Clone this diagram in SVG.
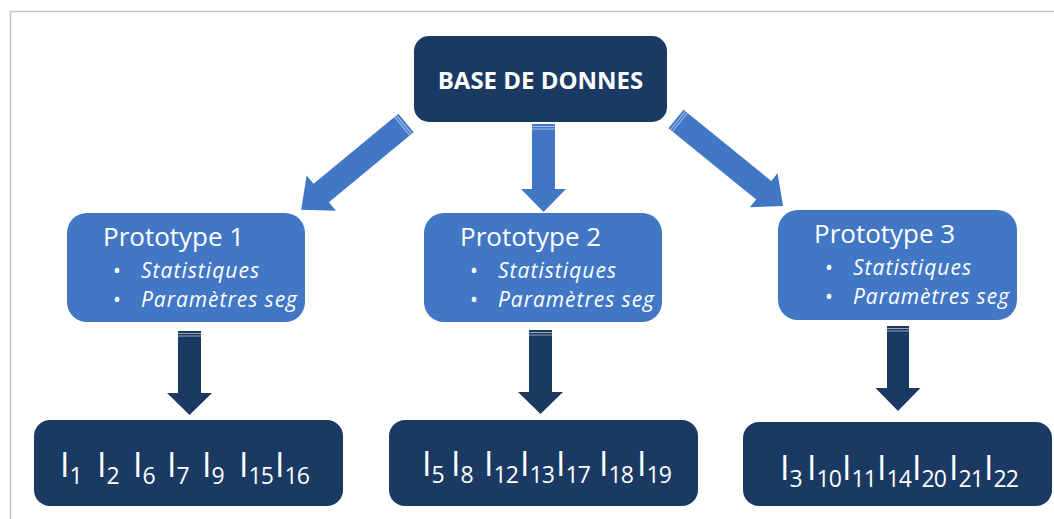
<svg xmlns="http://www.w3.org/2000/svg" width="1054" height="519" viewBox="0 0 1054 519">
<style>
.dark{fill:#1A3A63}
.mid{fill:#4277C6}
.ttl{font-family:"Open Sans","Noto Sans",sans-serif;font-size:26px;fill:#fff}
.lst{font-family:"Open Sans","Noto Sans",sans-serif;font-size:21px;fill:#fff}
.it{font-style:italic}
.big{font-family:"Open Sans","Noto Sans",sans-serif;font-size:24px;font-weight:bold;fill:#fff}
.I{font-family:"Open Sans","Noto Sans",sans-serif;font-size:34px;fill:#fff}
.sub{font-size:23px;letter-spacing:-1px}
.stripe{stroke:#fff;stroke-opacity:.55;stroke-width:1}
.frame{stroke:#C4C4C4;stroke-width:1.5;fill:none}
</style>
<path class="frame" d="M10.5,519 V11.5 H1054"/>

<g id="connectors">
  <g id="arrow-db-p1" transform="translate(406,123) rotate(140.4)">
    <polygon class="mid" points="0,-12 110,-12 110,-23 136,0 110,23 110,12 0,12"/>
    <line class="stripe" x1="2.5" y1="-12" x2="2.5" y2="12"/><line class="stripe" x1="5" y1="-12" x2="5" y2="12"/>
  </g>
  <g id="arrow-db-p2" transform="translate(543.5,124) rotate(90)">
    <polygon class="mid" points="0,-11.5 65,-11.5 65,-22.5 88,0 65,22.5 65,11.5 0,11.5"/>
    <line class="stripe" x1="2.5" y1="-11.5" x2="2.5" y2="11.5"/><line class="stripe" x1="5" y1="-11.5" x2="5" y2="11.5"/>
  </g>
  <g id="arrow-db-p3" transform="translate(676,119) rotate(39.1)">
    <polygon class="mid" points="0,-12 113,-12 113,-22 138,0 113,22 113,12 0,12"/>
    <line class="stripe" x1="2.5" y1="-12" x2="2.5" y2="12"/><line class="stripe" x1="5" y1="-12" x2="5" y2="12"/>
  </g>
  <g id="arrow-p1-g1" transform="translate(189.5,331) rotate(90)">
    <polygon class="dark" points="0,-11.5 62,-11.5 62,-22.5 84,0 62,22.5 62,11.5 0,11.5"/>
    <line class="stripe" x1="2.5" y1="-11.5" x2="2.5" y2="11.5"/><line class="stripe" x1="5" y1="-11.5" x2="5" y2="11.5"/>
  </g>
  <g id="arrow-p2-g2" transform="translate(540.5,330) rotate(90)">
    <polygon class="dark" points="0,-11.5 62,-11.5 62,-22.5 84,0 62,22.5 62,11.5 0,11.5"/>
    <line class="stripe" x1="2.5" y1="-11.5" x2="2.5" y2="11.5"/><line class="stripe" x1="5" y1="-11.5" x2="5" y2="11.5"/>
  </g>
  <g id="arrow-p3-g3" transform="translate(898,326) rotate(90)">
    <polygon class="dark" points="0,-11 62,-11 62,-22.5 85,0 62,22.5 62,11 0,11"/>
    <line class="stripe" x1="2.5" y1="-11" x2="2.5" y2="11"/><line class="stripe" x1="5" y1="-11" x2="5" y2="11"/>
  </g>
</g>

<g id="database">
  <rect class="dark" x="414" y="36" width="253" height="86" rx="15"/>
  <text class="big" x="540.5" y="89" text-anchor="middle">BASE DE DONNES</text>
</g>

<g id="prototype1">
  <rect class="mid" x="67" y="213" width="238" height="109" rx="20"/>
  <text class="ttl" x="103" y="246">Prototype 1</text>
  <text class="lst" x="113" y="278">•</text><text class="lst it" x="141" y="278" textLength="118">Statistiques</text>
  <text class="lst" x="113" y="307">•</text><text class="lst it" x="141" y="307" textLength="156">Paramètres seg</text>
</g>
<g id="prototype2">
  <rect class="mid" x="424" y="213" width="238" height="109" rx="20"/>
  <text class="ttl" x="460" y="246">Prototype 2</text>
  <text class="lst" x="470" y="278">•</text><text class="lst it" x="498" y="278" textLength="118">Statistiques</text>
  <text class="lst" x="470" y="307">•</text><text class="lst it" x="498" y="307" textLength="156">Paramètres seg</text>
</g>
<g id="prototype3">
  <rect class="mid" x="778" y="210" width="239" height="110" rx="20"/>
  <text class="ttl" x="814" y="243">Prototype 3</text>
  <text class="lst" x="825" y="275">•</text><text class="lst it" x="853" y="275" textLength="118">Statistiques</text>
  <text class="lst" x="825" y="304">•</text><text class="lst it" x="853" y="304" textLength="156">Paramètres seg</text>
</g>

<g id="group1">
  <rect class="dark" x="34" y="420" width="309" height="86" rx="16"/>
  <text class="I" y="477"><tspan x="60">I</tspan><tspan class="sub" dy="7">1</tspan></text>
  <text class="I" y="477"><tspan x="97">I</tspan><tspan class="sub" dy="7">2</tspan></text>
  <text class="I" y="477"><tspan x="133">I</tspan><tspan class="sub" dy="7">6</tspan></text>
  <text class="I" y="477"><tspan x="167">I</tspan><tspan class="sub" dy="7">7</tspan></text>
  <text class="I" y="477"><tspan x="202">I</tspan><tspan class="sub" dy="7">9</tspan></text>
  <text class="I" y="477"><tspan x="239">I</tspan><tspan class="sub" dy="7">15</tspan></text>
  <text class="I" y="477"><tspan x="275">I</tspan><tspan class="sub" dy="7">16</tspan></text>
</g>
<g id="group2">
  <rect class="dark" x="389" y="420" width="309" height="86" rx="16"/>
  <text class="I" y="476"><tspan x="422">I</tspan><tspan class="sub" dy="7">5</tspan></text>
  <text class="I" y="476"><tspan x="451">I</tspan><tspan class="sub" dy="7">8</tspan></text>
  <text class="I" y="476"><tspan x="484">I</tspan><tspan class="sub" dy="7">12</tspan></text>
  <text class="I" y="476"><tspan x="520">I</tspan><tspan class="sub" dy="7">13</tspan></text>
  <text class="I" y="476"><tspan x="556">I</tspan><tspan class="sub" dy="7">17</tspan></text>
  <text class="I" y="476"><tspan x="599">I</tspan><tspan class="sub" dy="7">18</tspan></text>
  <text class="I" y="476"><tspan x="637">I</tspan><tspan class="sub" dy="7">19</tspan></text>
</g>
<g id="group3">
  <rect class="dark" x="743" y="422" width="309" height="84" rx="16"/>
  <text class="I" y="480"><tspan x="780">I</tspan><tspan class="sub" dy="7">3</tspan></text>
  <text class="I" y="480"><tspan x="807">I</tspan><tspan class="sub" dy="7">10</tspan></text>
  <text class="I" y="480"><tspan x="842">I</tspan><tspan class="sub" dy="7">11</tspan></text>
  <text class="I" y="480"><tspan x="877">I</tspan><tspan class="sub" dy="7">14</tspan></text>
  <text class="I" y="480"><tspan x="912">I</tspan><tspan class="sub" dy="7">20</tspan></text>
  <text class="I" y="480"><tspan x="949">I</tspan><tspan class="sub" dy="7">21</tspan></text>
  <text class="I" y="480"><tspan x="984">I</tspan><tspan class="sub" dy="7">22</tspan></text>
</g>
</svg>
